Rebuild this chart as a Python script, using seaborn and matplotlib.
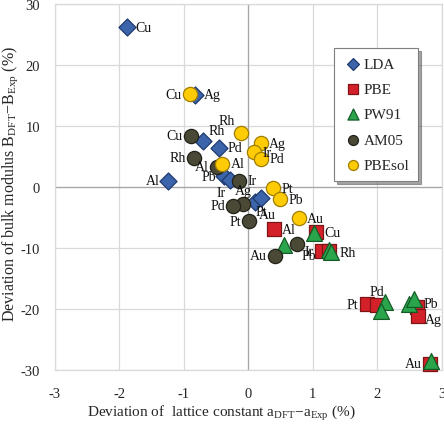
import pandas as pd
import matplotlib
matplotlib.use("Agg")
import matplotlib.pyplot as plt
import seaborn as sns

# Données (écart en %)
lda_metals = ["Cu", "Ag", "Rh", "Pd", "Al", "Pb", "Ir", "Au", "Pt"]
lda_x = [-1.88, -0.82, -0.70, -0.45, -1.24, -0.37, -0.28, 0.11, 0.20]
lda_y = [26.2, 15.1, 7.5, 6.4, 1.0, 1.8, 1.1, -2.5, -1.8]

pbe_metals = ["Al", "Cu", "Ir", "Rh", "Pt", "Pd", "Pb", "Ag", "Au"]
pbe_x = [0.40, 1.05, 1.15, 1.25, 1.84, 2.00, 2.62, 2.64, 2.82]
pbe_y = [-6.9, -7.4, -10.5, -10.5, -19.2, -19.3, -19.7, -21.1, -29.0]

pw91_metals = ["Al", "Cu", "Ir", "Rh", "Pt", "Pd", "Ag", "Pb", "Au"]
pw91_x = [0.56, 1.02, 1.25, 1.29, 2.12, 2.06, 2.50, 2.57, 2.84]
pw91_y = [-9.5, -7.5, -10.3, -10.7, -18.9, -20.3, -19.2, -18.4, -28.5]

am05_metals = ["Cu", "Rh", "Al", "Ir", "Ag", "Pd", "Pt", "Au", "Pb"]
am05_x = [-0.88, -0.84, -0.48, -0.14, -0.08, -0.23, 0.02, 0.42, 0.76]
am05_y = [8.4, 4.8, 3.3, 1.0, -2.8, -3.1, -5.6, -11.3, -9.3]

pbesol_metals = ["Cu", "Rh", "Ag", "Ir", "Pd", "Al", "Pt", "Pb", "Au"]
pbesol_x = [-0.90, -0.11, 0.20, 0.10, 0.20, -0.40, 0.39, 0.50, 0.79]
pbesol_y = [15.2, 8.9, 7.2, 5.7, 4.6, 3.8, -0.2, -2.0, -5.1]

methods = ["LDA", "PBE", "PW91", "AM05", "PBEsol"]
x_ticks = [-3, -2, -1, 0, 1, 2, 3]
y_ticks = [-30, -20, -10, 0, 10, 20, 30]

frames = []
for name, metals, xs, ys in [
    ("LDA", lda_metals, lda_x, lda_y),
    ("PBE", pbe_metals, pbe_x, pbe_y),
    ("PW91", pw91_metals, pw91_x, pw91_y),
    ("AM05", am05_metals, am05_x, am05_y),
    ("PBEsol", pbesol_metals, pbesol_x, pbesol_y),
]:
    frames.append(pd.DataFrame({"methode": name, "metal": metals, "da": xs, "dB": ys}))
df = pd.concat(frames, ignore_index=True)

# Style des séries
styles = {
    "LDA": dict(marker="D", color="#3C64AA", edge="#1E3A6E", s=75),
    "PBE": dict(marker="s", color="#D42129", edge="#7E1416", s=110),
    "PW91": dict(marker="^", color="#2AA54B", edge="#145C27", s=130),
    "AM05": dict(marker="o", color="#4A4936", edge="#22221A", s=105),
    "PBEsol": dict(marker="o", color="#FFCB05", edge="#A07E00", s=105),
}

# Position des étiquettes (None = pas d'étiquette)
label_pos = {
    "LDA": ["r", "r", "ur", "r", "l", "l", "dl", "dr", "d"],
    "PBE": ["r", "r", "l", None, "l", "u", "ru", "rd", "l"],
    "PW91": [None, None, None, "r", None, None, None, None, None],
    "AM05": ["l", "l", "l", "r", "u", "l", "l", "l", "dr"],
    "PBEsol": ["l", "ul", "r", "r", "r", "r", "r", "r", "r"],
}
offsets = {
    "r": (6, 0, "left", "center"),
    "l": (-6, 0, "right", "center"),
    "u": (0, 5, "center", "bottom"),
    "d": (0, -5, "center", "top"),
    "ul": (-4, 4, "right", "bottom"),
    "ur": (4, 3, "left", "bottom"),
    "dl": (-3, -4, "right", "top"),
    "dr": (3, -4, "left", "top"),
    "ru": (5, 3, "left", "center"),
    "rd": (5, -3, "left", "center"),
}

sns.set_theme(style="white")
plt.rcParams["font.family"] = ["Liberation Serif", "DejaVu Serif"]
plt.rcParams["mathtext.fontset"] = "custom"
plt.rcParams["mathtext.rm"] = "Liberation Serif"
plt.rcParams["axes.unicode_minus"] = False

fig = plt.figure(figsize=(4.44, 4.31), dpi=100)
ax = fig.add_axes([54.5 / 444, 1 - 371 / 431, 387 / 444, 366 / 431])

for m in methods:
    st = styles[m]
    sub = df[df["methode"] == m]
    sns.scatterplot(data=sub, x="da", y="dB", ax=ax, marker=st["marker"], color=st["color"],
                    edgecolor=st["edge"], linewidth=0.9, s=st["s"], label=m, zorder=3, clip_on=False)

for m in methods:
    sub = df[df["methode"] == m].reset_index(drop=True)
    for i, row in sub.iterrows():
        code = label_pos[m][i]
        if code is None:
            continue
        dx, dy, ha, va = offsets[code]
        ax.annotate(row["metal"], (row["da"], row["dB"]), xytext=(dx, dy), textcoords="offset points",
                    ha=ha, va=va, fontsize=10, color="#111111", zorder=4)

ax.set_xlim(-3, 3)
ax.set_ylim(-30, 30)
ax.set_xticks(x_ticks)
ax.set_yticks(y_ticks)
ax.grid(True, color="#D9D9D9", linewidth=0.9)
ax.axhline(0, color="#A6A6A6", linewidth=0.9, zorder=1)
ax.axvline(0, color="#A6A6A6", linewidth=0.9, zorder=1)
for sp in ax.spines.values():
    sp.set_color("#D9D9D9")
    sp.set_linewidth(0.9)
ax.tick_params(axis="x", length=0, pad=12, labelsize=10.5)
ax.tick_params(axis="y", length=0, pad=10.5, labelsize=10.5)

ax.set_xlabel("Deviation of  lattice constant a$_{\\mathrm{DFT}}$$-$a$_{\\mathrm{Exp}}$ (%)", fontsize=11)
ax.xaxis.set_label_coords(0.43, -0.088)
ax.set_ylabel("Deviation of bulk modulus B$_{\\mathrm{DFT}}$$-$B$_{\\mathrm{Exp}}$ (%)", fontsize=11.5)
ax.yaxis.set_label_coords(-0.088, 0.51)

leg = ax.legend(loc="upper right", bbox_to_anchor=(0.96, 0.9), frameon=True, shadow=True, fancybox=False,
                fontsize=11, labelspacing=0.75, handletextpad=0.1, handlelength=1.2, borderpad=0.6,
                markerscale=0.7)
leg.get_frame().set_edgecolor("#7F7F7F")
leg.get_frame().set_linewidth(0.8)

fig.savefig("out.png", dpi=100)
